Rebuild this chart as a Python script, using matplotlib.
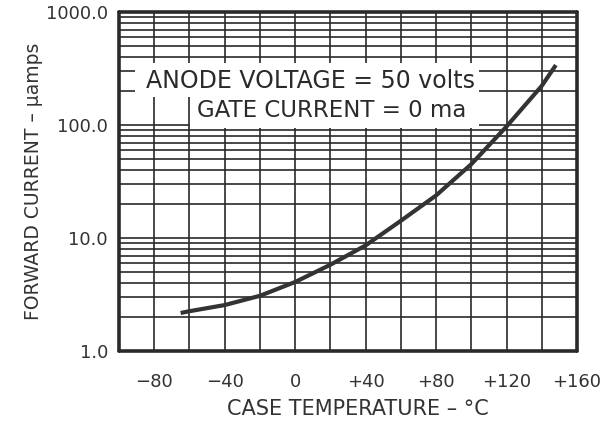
import numpy as np
import matplotlib.pyplot as plt
from matplotlib.patches import Rectangle
from matplotlib.ticker import FixedLocator, LogLocator, NullFormatter, FuncFormatter

# curve
temp_c = [-65, -60, -40, -20, 0, 20, 40, 60, 80, 100, 120, 140, 148]
fwd_current_ua = [2.17, 2.25, 2.55, 3.08, 4.08, 5.8, 8.6, 14.2, 23.8, 45, 97, 222, 339]

x_ticks = [-80, -40, 0, 40, 80, 120, 160]
x_labels = ['\u221280', '\u221240', '0', '+40', '+80', '+120', '+160']
y_ticks = [1, 10, 100, 1000]

INK = '#2a2a2a'

fig = plt.figure(figsize=(6.01, 4.30), dpi=100)
ax = fig.add_axes([119 / 601, 1 - 351 / 430, 458 / 601, 339 / 430])

ax.set_xlim(-100, 160)
ax.set_ylim(1, 1000)
ax.set_yscale('log')

# grid: every 20 degrees, every 1..9 of each decade
ax.xaxis.set_major_locator(FixedLocator(x_ticks))
ax.xaxis.set_minor_locator(FixedLocator(np.arange(-80, 160, 20)))
ax.yaxis.set_major_locator(FixedLocator(y_ticks))
ax.yaxis.set_minor_locator(LogLocator(base=10, subs=np.arange(2, 10)))
ax.yaxis.set_minor_formatter(NullFormatter())
ax.grid(True, which='both', color=INK, linewidth=1.2, zorder=1)
ax.set_axisbelow(True)

ax.set_xticklabels(x_labels)
ax.yaxis.set_major_formatter(FuncFormatter(lambda v, p: f'{v:.1f}'))
ax.tick_params(which='both', length=0, labelsize=13, labelcolor='#333333')
ax.tick_params(axis='x', pad=16)
ax.tick_params(axis='y', pad=8)

for s in ax.spines.values():
    s.set_linewidth(2.6)
    s.set_color(INK)
    s.set_capstyle('round')

# white panel behind the conditions text
ax.add_patch(Rectangle((-91, 177), 195.5, 354 - 177, facecolor='white',
                       edgecolor='none', zorder=2))
ax.add_patch(Rectangle((-59.5, 94), 164, 177 - 94, facecolor='white',
                       edgecolor='none', zorder=2))
ax.text(8.5, 245, 'ANODE VOLTAGE = 50 volts', ha='center', va='center',
        fontsize=17, color=INK, zorder=3)
ax.text(21, 134, 'GATE CURRENT = 0 ma', ha='center', va='center',
        fontsize=16.5, color=INK, zorder=3)

ax.plot(temp_c, fwd_current_ua, color='#333333', linewidth=3,
        solid_capstyle='butt', solid_joinstyle='round', zorder=4)

ax.set_xlabel('CASE TEMPERATURE \u2013 \u00b0C', fontsize=15, color='#333333')
ax.xaxis.set_label_coords(0.522, -0.142)
ax.set_ylabel('FORWARD CURRENT \u2013 \u03bcamps', fontsize=13.5, color='#333333',
              labelpad=2)

fig.savefig('out.png', dpi=100)
